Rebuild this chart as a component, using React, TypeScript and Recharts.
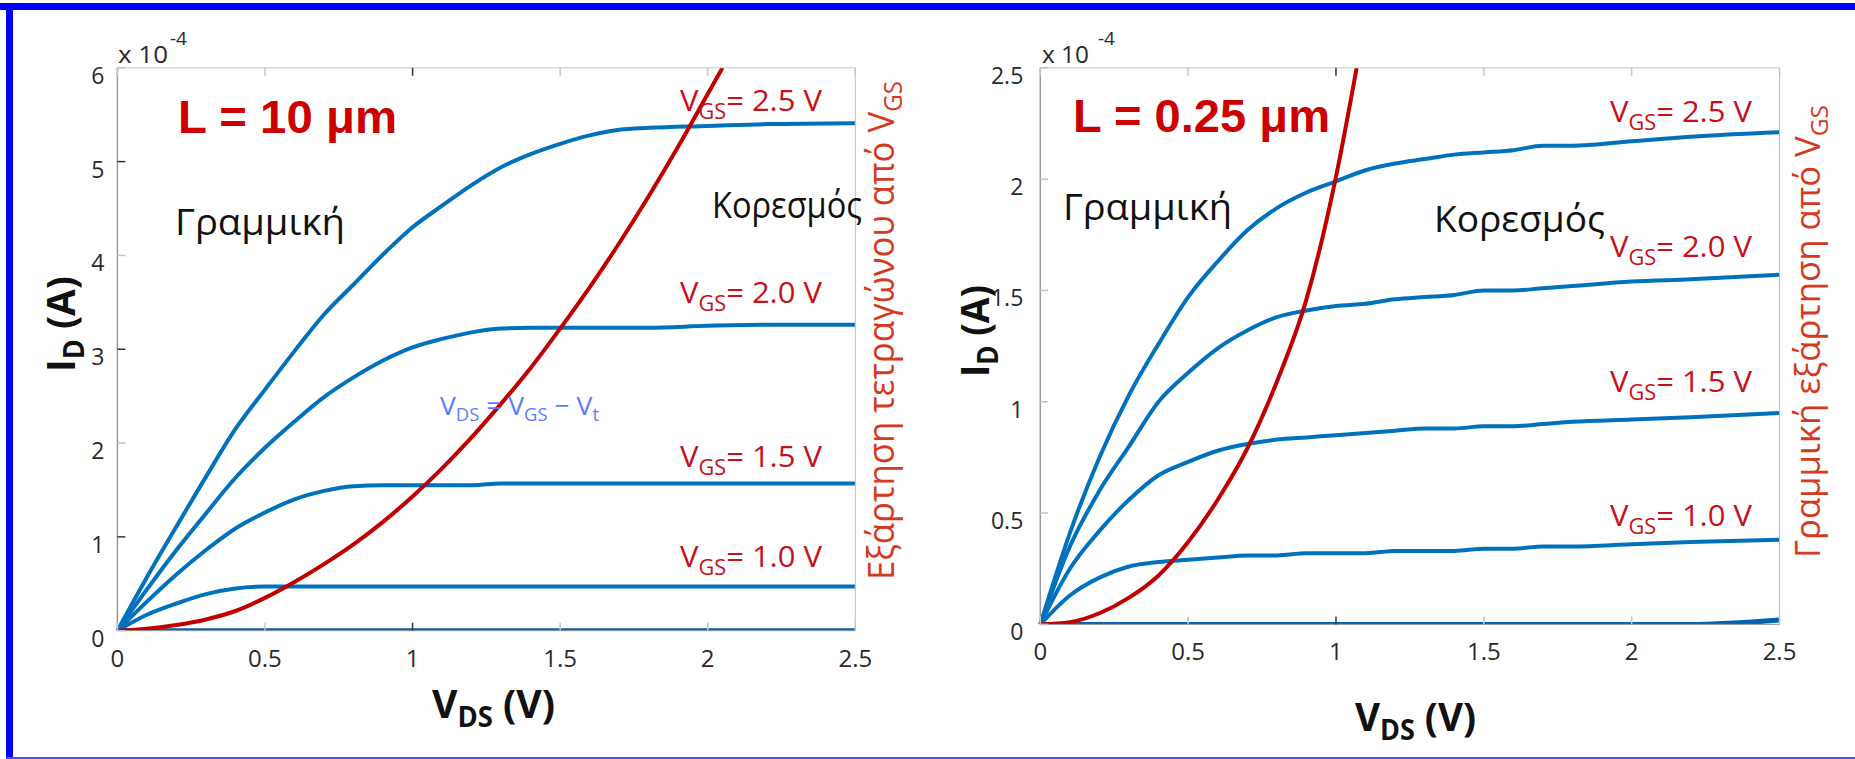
import { LineChart, Line, XAxis, YAxis } from 'recharts'

// V_DS grid shared by the blue curves
const VDS = [0, 0.1, 0.2, 0.3, 0.4, 0.5, 0.6, 0.7, 0.8, 0.9, 1.0, 1.1, 1.2, 1.3, 1.4, 1.5, 1.6, 1.7, 1.8, 2.0, 2.2, 2.5]

// L = 10 um, I_D in units of 1e-4 A
const L_VGS25 = [0, 0.57, 1.11, 1.64, 2.15, 2.57, 2.98, 3.37, 3.69, 4.01, 4.30, 4.53, 4.75, 4.94, 5.08, 5.19, 5.28, 5.34, 5.36, 5.38, 5.40, 5.41]
const L_VGS20 = [0, 0.44, 0.86, 1.25, 1.63, 1.95, 2.23, 2.49, 2.70, 2.88, 3.02, 3.11, 3.18, 3.22, 3.23, 3.23, 3.23, 3.23, 3.23, 3.25, 3.26, 3.26]
const L_VGS15 = [0, 0.31, 0.60, 0.86, 1.09, 1.26, 1.40, 1.49, 1.54, 1.55, 1.55, 1.55, 1.55, 1.57, 1.57, 1.57, 1.57, 1.57, 1.57, 1.57, 1.57, 1.57]
const L_VGS10 = [0, 0.17, 0.29, 0.39, 0.45, 0.47, 0.47, 0.47, 0.47, 0.47, 0.47, 0.47, 0.47, 0.47, 0.47, 0.47, 0.47, 0.47, 0.47, 0.47, 0.47, 0.47]
const L_VGS05 = [0, 0, 0, 0, 0, 0, 0, 0, 0, 0, 0, 0, 0, 0, 0, 0, 0, 0, 0, 0, 0, 0]

// L = 0.25 um
const R_VGS25 = [0, 0.41, 0.75, 1.03, 1.26, 1.47, 1.63, 1.77, 1.87, 1.94, 1.99, 2.04, 2.07, 2.09, 2.11, 2.12, 2.13, 2.15, 2.15, 2.17, 2.19, 2.21]
const R_VGS20 = [0, 0.35, 0.60, 0.80, 1.00, 1.13, 1.24, 1.32, 1.38, 1.41, 1.43, 1.44, 1.46, 1.47, 1.48, 1.50, 1.50, 1.51, 1.52, 1.54, 1.55, 1.57]
const R_VGS15 = [0, 0.25, 0.42, 0.56, 0.67, 0.73, 0.78, 0.81, 0.83, 0.84, 0.85, 0.86, 0.87, 0.88, 0.88, 0.89, 0.89, 0.90, 0.91, 0.92, 0.93, 0.95]
const R_VGS10 = [0, 0.13, 0.21, 0.26, 0.28, 0.29, 0.30, 0.31, 0.31, 0.32, 0.32, 0.32, 0.33, 0.33, 0.33, 0.34, 0.34, 0.35, 0.35, 0.36, 0.37, 0.38]
const R_VGS05 = [0, 0, 0, 0, 0, 0, 0, 0, 0, 0, 0, 0, 0, 0, 0, 0, 0, 0, 0, 0, 0, 0.02]

// V_DS = V_GS - V_t boundary curves
const SAT_L_X = [0, 0.1, 0.2, 0.3, 0.4, 0.5, 0.6, 0.7, 0.8, 0.9, 1.0, 1.1, 1.2, 1.3, 1.4, 1.5, 1.6, 1.7, 1.8, 1.9, 2.0, 2.05]
const SAT_L_Y = [0, 0.02, 0.06, 0.12, 0.21, 0.35, 0.52, 0.71, 0.92, 1.16, 1.43, 1.73, 2.06, 2.42, 2.80, 3.22, 3.66, 4.13, 4.63, 5.16, 5.72, 6.0]
const SAT_R_X = [0, 0.1, 0.2, 0.3, 0.4, 0.5, 0.6, 0.7, 0.8, 0.9, 1.0, 1.07]
const SAT_R_Y = [0, 0.01, 0.05, 0.12, 0.22, 0.37, 0.56, 0.79, 1.09, 1.46, 2.01, 2.5]

const X_TICKS = [0, 0.5, 1, 1.5, 2, 2.5]
const Y_TICKS_L = [0, 1, 2, 3, 4, 5, 6]
const Y_TICKS_R = [0, 0.5, 1, 1.5, 2, 2.5]

const BLUE = '#0072bd'
const RED = '#c00000'
const FONT = '"Open Sans", "Noto Sans", sans-serif'

const rowsL = VDS.map((v, k) => ({ v, a: L_VGS25[k], b: L_VGS20[k], c: L_VGS15[k], d: L_VGS10[k], e: L_VGS05[k] }))
const rowsR = VDS.map((v, k) => ({ v, a: R_VGS25[k], b: R_VGS20[k], c: R_VGS15[k], d: R_VGS10[k], e: R_VGS05[k] }))
const satL = SAT_L_X.map((v, k) => ({ v, s: SAT_L_Y[k] }))
const satR = SAT_R_X.map((v, k) => ({ v, s: SAT_R_Y[k] }))

// odd integers get a dark tick, the rest a light one (as in the source figure)
const tickColor = (val: number, alt: boolean) => (alt && Number.isInteger(val) && val % 2 === 1 ? '#333' : '#c4c4c4')

function LeftTick(props: any) {
    const { x, y, payload, gap, alt } = props
    return (
        <g>
            <line x1={x} x2={x + 8} y1={y} y2={y} stroke={tickColor(payload.value, alt)} strokeWidth={1.5} />
            <text x={x - gap} y={y + 16} textAnchor="end" fontSize={23} fontFamily={FONT} fill="#2a2a2a">{payload.value}</text>
        </g>
    )
}

function RightTick(props: any) {
    const { x, y, payload, alt } = props
    return <line x1={x} x2={x - 8} y1={y} y2={y} stroke={tickColor(payload.value, alt)} strokeWidth={1.5} />
}

function BottomTick(props: any) {
    const { x, y, payload } = props
    return (
        <g>
            <line x1={x} x2={x} y1={y} y2={y - 8} stroke={tickColor(payload.value, true)} strokeWidth={1.5} />
            <text x={x} y={y + 36} textAnchor="middle" fontSize={24} fontFamily={FONT} fill="#2a2a2a">{payload.value}</text>
        </g>
    )
}

function TopTick(props: any) {
    const { x, y, payload } = props
    return <line x1={x} x2={x} y1={y} y2={y + 8} stroke={tickColor(payload.value, true)} strokeWidth={1.5} />
}

function Panel({ rows, sat, yMax, yTicks, m, gap, alt }: any) {
    return (
        <LineChart width={m.w} height={759} data={rows} margin={{ top: m.top - 10, right: m.right - 10, bottom: m.bottom - 40, left: m.left - 60 }}>
            <XAxis xAxisId="b" dataKey="v" type="number" domain={[0, 2.5]} ticks={X_TICKS} interval={0} height={40}
                tickSize={0} tickMargin={0} axisLine={{ stroke: '#9a9a9a' }} tickLine={false} tick={(p: any) => <BottomTick {...p} />} />
            <XAxis xAxisId="t" orientation="top" dataKey="v" type="number" domain={[0, 2.5]} ticks={X_TICKS} interval={0} height={10}
                tickSize={0} tickMargin={0} axisLine={{ stroke: '#c8c8c8' }} tickLine={false} tick={(p: any) => <TopTick {...p} />} />
            <YAxis yAxisId="l" type="number" domain={[0, yMax]} ticks={yTicks} interval={0} width={60} allowDataOverflow
                tickSize={0} tickMargin={0} axisLine={{ stroke: '#9a9a9a', strokeWidth: 1.5 }} tickLine={false} tick={(p: any) => <LeftTick {...p} gap={gap} alt={alt} />} />
            <YAxis yAxisId="r" orientation="right" type="number" domain={[0, yMax]} ticks={yTicks} interval={0} width={10}
                tickSize={0} tickMargin={0} axisLine={{ stroke: '#bdbdbd' }} tickLine={false} tick={(p: any) => <RightTick {...p} alt={alt} />} />
            {['e', 'd', 'c', 'b', 'a'].map((k) => (
                <Line key={k} xAxisId="b" yAxisId="l" dataKey={k} type="monotone" stroke={k === 'e' ? '#0062b0' : BLUE}
                    strokeWidth={k === 'e' ? 5 : 4} dot={false} isAnimationActive={false} />
            ))}
            <Line xAxisId="b" yAxisId="l" data={sat} dataKey="s" type="monotone" stroke={RED} strokeWidth={4} dot={false} isAnimationActive={false} />
        </LineChart>
    )
}

function VgsLabel({ x, y, v }: any) {
    return (
        <text x={x} y={y} fontSize={30} fontFamily={FONT} fill="#c8101a" textLength={142} lengthAdjust="spacingAndGlyphs">
            V<tspan dy={8} fontSize={21}>GS</tspan><tspan dy={-8}>{`= ${v} V`}</tspan>
        </text>
    )
}

function Overlay() {
    const bold = { fontFamily: '"Liberation Sans", Arial, sans-serif', fontWeight: 700, fill: '#cc0000', fontSize: 46 }
    const axisTitle = { fontFamily: FONT, fontWeight: 700, fill: '#111', fontSize: 40 }
    return (
        <svg width={1855} height={759} style={{ position: 'absolute', left: 0, top: 0, pointerEvents: 'none' }}>
            <rect x={0} y={3} width={1855} height={7} fill="#0000ff" />
            <rect x={6} y={3} width={7} height={756} fill="#0000ff" />
            <rect x={6} y={757} width={1849} height={2} fill="#4a4aff" />

            {/* left panel */}
            <text x={118} y={63} fontSize={24} fontFamily={FONT} fill="#2a2a2a" textLength={50} lengthAdjust="spacingAndGlyphs">x 10</text>
            <text x={170} y={45} fontSize={19} fontFamily={FONT} fill="#2a2a2a">-4</text>
            <text x={178} y={133} {...bold} textLength={219} lengthAdjust="spacingAndGlyphs">L = 10 μm</text>
            <text x={175} y={235} fontSize={37} fontFamily={FONT} fill="#111" textLength={170} lengthAdjust="spacingAndGlyphs">Γραμμική</text>
            <text x={712} y={218} fontSize={37} fontFamily={FONT} fill="#111" textLength={150} lengthAdjust="spacingAndGlyphs">Κορεσμός</text>
            <VgsLabel x={680} y={111} v="2.5" />
            <VgsLabel x={680} y={303} v="2.0" />
            <VgsLabel x={680} y={467} v="1.5" />
            <VgsLabel x={680} y={567} v="1.0" />
            <text x={440} y={415} fontSize={26} fontFamily={FONT} fill="#5b7cff" textLength={159} lengthAdjust="spacingAndGlyphs">
                V<tspan dy={6} fontSize={18}>DS</tspan><tspan dy={-6}> = V</tspan><tspan dy={6} fontSize={18}>GS</tspan><tspan dy={-6}> − V</tspan><tspan dy={6} fontSize={18}>t</tspan>
            </text>
            <text transform="translate(894,580) rotate(-90)" fontSize={36} fontFamily={FONT} fill="#d63a1e" textLength={499} lengthAdjust="spacingAndGlyphs">
                Εξάρτηση τετραγώνου από V<tspan dy={8} fontSize={25}>GS</tspan>
            </text>
            <text x={432} y={718} {...axisTitle} textLength={123} lengthAdjust="spacingAndGlyphs">
                V<tspan dy={9} fontSize={28}>DS</tspan><tspan dy={-9}> (V)</tspan>
            </text>
            <text transform="translate(75,372) rotate(-90)" {...axisTitle} textLength={96} lengthAdjust="spacingAndGlyphs">
                I<tspan dy={9} fontSize={28}>D</tspan><tspan dy={-9}> (A)</tspan>
            </text>

            {/* right panel */}
            <text x={1042} y={63} fontSize={24} fontFamily={FONT} fill="#2a2a2a" textLength={47} lengthAdjust="spacingAndGlyphs">x 10</text>
            <text x={1098} y={45} fontSize={19} fontFamily={FONT} fill="#2a2a2a">-4</text>
            <text x={1073} y={132} {...bold} textLength={257} lengthAdjust="spacingAndGlyphs">L = 0.25 μm</text>
            <text x={1063} y={220} fontSize={37} fontFamily={FONT} fill="#111" textLength={169} lengthAdjust="spacingAndGlyphs">Γραμμική</text>
            <text x={1434} y={232} fontSize={37} fontFamily={FONT} fill="#111" textLength={171} lengthAdjust="spacingAndGlyphs">Κορεσμός</text>
            <VgsLabel x={1610} y={122} v="2.5" />
            <VgsLabel x={1610} y={257} v="2.0" />
            <VgsLabel x={1610} y={392} v="1.5" />
            <VgsLabel x={1610} y={526} v="1.0" />
            <text transform="translate(1820,558) rotate(-90)" fontSize={34} fontFamily={FONT} fill="#d63a1e" textLength={453} lengthAdjust="spacingAndGlyphs">
                Γραμμική εξάρτηση από V<tspan dy={8} fontSize={24}>GS</tspan>
            </text>
            <text x={1355} y={731} {...axisTitle} textLength={121} lengthAdjust="spacingAndGlyphs">
                V<tspan dy={9} fontSize={28}>DS</tspan><tspan dy={-9}> (V)</tspan>
            </text>
            <text transform="translate(989,377) rotate(-90)" {...axisTitle} textLength={92} lengthAdjust="spacingAndGlyphs">
                I<tspan dy={9} fontSize={28}>D</tspan><tspan dy={-9}> (A)</tspan>
            </text>
        </svg>
    )
}

export default function App() {
    return (
        <div style={{ position: 'absolute', left: 0, top: 0, width: 1855, height: 759, background: '#fff', overflow: 'hidden' }}>
            <div style={{ position: 'absolute', left: 0, top: 0 }}>
                <Panel rows={rowsL} sat={satL} yMax={6} yTicks={Y_TICKS_L} gap={13} alt
                    m={{ w: 930, top: 67.8, right: 74.7, bottom: 128.3, left: 117.4 }} />
            </div>
            <div style={{ position: 'absolute', left: 930, top: 0 }}>
                <Panel rows={rowsR} sat={satR} yMax={2.5} yTicks={Y_TICKS_R} gap={17} alt={false}
                    m={{ w: 925, top: 67.8, right: 75.5, bottom: 134.6, left: 110.3 }} />
            </div>
            <Overlay />
        </div>
    )
}
